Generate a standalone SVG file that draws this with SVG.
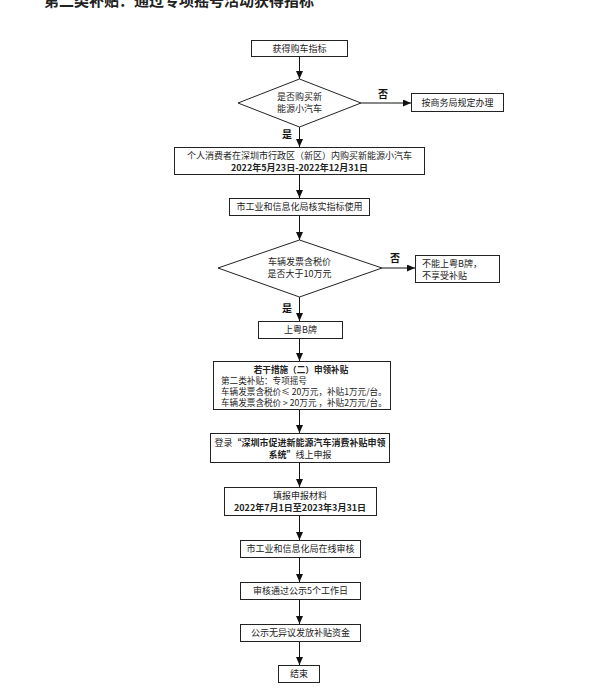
<svg xmlns="http://www.w3.org/2000/svg" width="600" height="688" viewBox="0 0 600 688">
<defs>
<marker id="arr" markerWidth="8" markerHeight="7" refX="8" refY="3.5" orient="auto" markerUnits="userSpaceOnUse">
<path d="M0,0 L8,3.5 L0,7 z" fill="#111"/>
</marker>
<style>
.box{fill:#fff;stroke:#222;stroke-width:1}
.t{font-family:"Noto Sans CJK SC","Noto Sans",sans-serif;font-size:9px;fill:#222}
.s{font-size:8.6px}
.c{text-anchor:middle}
.b{font-weight:bold}
.lbl{font-family:"Noto Sans CJK SC","Noto Sans",sans-serif;font-size:10px;font-weight:bold;fill:#111}
.ln{stroke:#111;stroke-width:1;fill:none;marker-end:url(#arr)}
</style>
</defs>
<rect width="600" height="688" fill="#fff"/>
<text x="44" y="6" style="font-family:'Noto Sans CJK SC',sans-serif;font-size:15px;font-weight:bold;fill:#222">第二类补贴：通过专项摇号活动获得指标</text>

<g id="connectors">
<line class="ln" x1="299.5" y1="57" x2="299.5" y2="79"/>
<line class="ln" x1="361" y1="103" x2="411" y2="103"/>
<line class="ln" x1="299.5" y1="127" x2="299.5" y2="147"/>
<line class="ln" x1="299.5" y1="175" x2="299.5" y2="198"/>
<line class="ln" x1="299.5" y1="216" x2="299.5" y2="240"/>
<line class="ln" x1="382" y1="268" x2="415" y2="268"/>
<line class="ln" x1="299.5" y1="297" x2="299.5" y2="321"/>
<line class="ln" x1="299.5" y1="339" x2="299.5" y2="361"/>
<line class="ln" x1="299.5" y1="410" x2="299.5" y2="433"/>
<line class="ln" x1="299.5" y1="463" x2="299.5" y2="487"/>
<line class="ln" x1="299.5" y1="516" x2="299.5" y2="540"/>
<line class="ln" x1="299.5" y1="558" x2="299.5" y2="582"/>
<line class="ln" x1="299.5" y1="600" x2="299.5" y2="624"/>
<line class="ln" x1="299.5" y1="642" x2="299.5" y2="665"/>
<text class="lbl" x="378" y="98">否</text>
<text class="lbl" x="282" y="138">是</text>
<text class="lbl" x="390" y="262">否</text>
<text class="lbl" x="282" y="312">是</text>
</g>

<g id="n1"><rect class="box" x="251.5" y="40.5" width="96" height="16"/><text class="t c" x="299.5" y="52">获得购车指标</text></g>
<g id="d1"><polygon class="box" points="299.5,79 361,103 299.5,127 238,103"/><text class="t c" x="299.5" y="100">是否购买新</text><text class="t c" x="299.5" y="112">能源小汽车</text></g>
<g id="n2"><rect class="box" x="411.5" y="93.5" width="92" height="18"/><text class="t c" x="457.5" y="106">按商务局规定办理</text></g>
<g id="n3"><rect class="box" x="174.5" y="147.5" width="250" height="27"/><text class="t c" x="299.5" y="159">个人消费者在深圳市行政区（新区）内购买新能源小汽车</text><text class="t c b" x="299.5" y="171">2022年5月23日-2022年12月31日</text></g>
<g id="n4"><rect class="box" x="229.5" y="198.5" width="140" height="17"/><text class="t c" x="299.5" y="210">市工业和信息化局核实指标使用</text></g>
<g id="d2"><polygon class="box" points="299.5,240 382,268 299.5,297 218,268"/><text class="t c" x="299.5" y="265">车辆发票含税价</text><text class="t c" x="299.5" y="277">是否大于10万元</text></g>
<g id="n5"><rect class="box" x="415.5" y="255.5" width="84" height="27"/><text class="t" x="422" y="267">不能上粤B牌，</text><text class="t" x="422" y="279">不享受补贴</text></g>
<g id="n6"><rect class="box" x="258.5" y="321.5" width="84" height="17"/><text class="t c" x="300.5" y="333">上粤B牌</text></g>
<g id="n7"><rect class="box" x="213.5" y="361.5" width="177" height="48"/><text class="t s c b" x="301" y="372.5">若干措施（二）申领补贴</text><text class="t s" x="221" y="383.5">第二类补贴：专项摇号</text><text class="t s" x="221" y="394.5">车辆发票含税价≤ 20万元，补贴1万元/台。</text><text class="t s" x="221" y="405.5">车辆发票含税价 &gt; 20万元 ，补贴2万元/台。</text></g>
<g id="n8"><rect class="box" x="210.5" y="433.5" width="179" height="29"/><text class="t c" x="300" y="446">登录<tspan class="b">“深圳市促进新能源汽车消费补贴申领</tspan></text><text class="t c" x="300" y="458"><tspan class="b">系统”</tspan>线上申报</text></g>
<g id="n9"><rect class="box" x="224.5" y="487.5" width="152" height="28"/><text class="t c" x="300" y="499">填报申报材料</text><text class="t c b" x="300" y="511">2022年7月1日至2023年3月31日</text></g>
<g id="n10"><rect class="box" x="240.5" y="540.5" width="120" height="17"/><text class="t c" x="300.5" y="552">市工业和信息化局在线审核</text></g>
<g id="n11"><rect class="box" x="240.5" y="582.5" width="120" height="17"/><text class="t c" x="300.5" y="594">审核通过公示5个工作日</text></g>
<g id="n12"><rect class="box" x="240.5" y="624.5" width="120" height="17"/><text class="t c" x="300.5" y="636">公示无异议发放补贴资金</text></g>
<g id="n13"><rect class="box" x="278.5" y="665.5" width="41" height="17"/><text class="t c" x="299" y="677">结束</text></g>
</svg>
